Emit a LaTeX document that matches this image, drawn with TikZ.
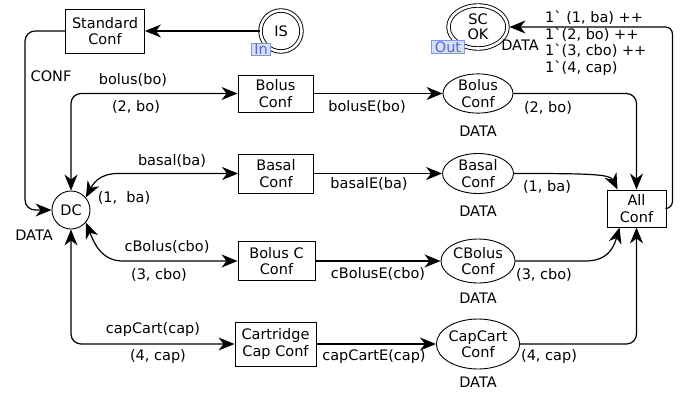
\documentclass[tikz,border=0pt]{standalone}
\usepackage{fontspec}
\newfontfamily\dv{DejaVu Sans}
\usetikzlibrary{arrows.meta,shapes.geometric,calc}
\definecolor{tagfill}{HTML}{D6DEF8}
\definecolor{tagline}{HTML}{7F95E8}
\definecolor{tagtext}{HTML}{5468D8}
\begin{document}
\begin{tikzpicture}[x=1pt,y=1pt,
  every node/.style={font=\dv\fontsize{14.5}{16.5}\selectfont, inner sep=0pt},
  trans/.style={draw, line width=0.9pt, align=center, rectangle},
  place/.style={draw, line width=0.9pt, ellipse, align=center},
  dplace/.style={draw, line width=0.9pt, double, double distance=2.6pt, align=center},
  tag/.style={draw=tagline, fill=tagfill, text=tagtext, line width=0.9pt, inner xsep=3pt, inner ysep=1pt},
  arc/.style={line width=1.2pt, -{Stealth[length=16pt,width=13pt,inset=5pt]}},
  arcb/.style={line width=1.2pt, {Stealth[length=16pt,width=13pt,inset=5pt]}-{Stealth[length=16pt,width=13pt,inset=5pt]}},
]
\useasboundingbox (0,0) rectangle (688,-394);

% transitions
\node[trans, minimum width=79, minimum height=44] (std) at (105,-31) {Standard\\Conf};
\node[trans, minimum width=75, minimum height=37] (bolusT) at (275.5,-93.5) {Bolus\\Conf};
\node[trans, minimum width=75, minimum height=39] (basalT) at (276,-173.5) {Basal\\Conf};
\node[trans, minimum width=77, minimum height=39] (bcT) at (276.5,-261) {Bolus C\\Conf};
\node[trans, minimum width=81, minimum height=44] (capT) at (275.5,-344) {Cartridge\\Cap Conf};
\node[trans, minimum width=59, minimum height=37] (all) at (636.5,-208.5) {All\\Conf};

% places
\node[dplace, circle, minimum size=41] (is) at (281,-31) {IS};
\node[dplace, ellipse, minimum width=59, minimum height=43, font=\dv\fontsize{14.5}{15}\selectfont] (sc) at (478,-27) {SC\\OK};
\node[place, circle, minimum size=38] (dc) at (71,-210) {DC};
\node[place, minimum width=70, minimum height=38] (bolusP) at (478,-93.5) {Bolus\\Conf};
\node[place, minimum width=71, minimum height=40] (basalP) at (478,-173.5) {Basal\\Conf};
\node[place, minimum width=74, minimum height=44] (cbP) at (478,-261) {CBolus\\Conf};
\node[place, minimum width=79, minimum height=50] (capP) at (478,-344) {CapCart\\Conf};

% tags
\node[tag] (tin) at (261,-49.5) {In};
\node[tag] (tout) at (448,-47) {Out};

% arcs
\draw[arc] (is) -- (std);
\draw[arc, rounded corners=10pt] (std.west) -- ++(-40,0) |- (dc.west);
\draw[arcb, rounded corners=10pt] (dc.north) |- (bolusT.west);
\draw[arcb] (dc.40) .. controls (93,-184) and (99,-173.5) .. ($(basalT.west)+(-120,0)$) -- (basalT.west);
\draw[arcb] (dc.-40) .. controls (93,-240) and (100,-261) .. ($(bcT.west)+(-115,0)$) -- (bcT.west);
\draw[arcb, rounded corners=10pt] (dc.south) |- (capT.west);

\draw[arc] (bolusT) -- (bolusP);
\draw[arc] (basalT) -- (basalP);
\draw[arc] (bcT) -- (cbP);
\draw[arc] (capT) -- (capP);

\draw[arc, rounded corners=10pt] (bolusP.east) -| (all.north);
\draw[arc] (basalP.east) .. controls (590,-173.5) and (610,-174) .. ($(all.north west)+(11,0)$);
\draw[arc] (cbP.east) -- (585,-261) .. controls (606,-261) and (613,-250) .. ($(all.south west)+(13,0)$);
\draw[arc, rounded corners=10pt] (capP.east) -| (all.south);
\draw[arc, rounded corners=7pt] (all.east) -- ++(6,0) |- ($(sc.east)+(1.5,0)$);

% labels
\node (l1) at (51,-76) {CONF};
\node (l2) at (34,-235) {DATA};
\node (l3) at (133,-80) {bolus(bo)};
\node (l4) at (136,-107) {(2, bo)};
\node (l5) at (172,-161) {basal(ba)};
\node (l6) at (124,-198) {(1,\ \ ba)};
\node (l7) at (167,-247) {cBolus(cbo)};
\node (l8) at (159,-275) {(3, cbo)};
\node (l9) at (153,-330) {capCart(cap)};
\node (l10) at (158,-357) {(4, cap)};
\node (l11) at (367,-107) {bolusE(bo)};
\node (l12) at (369,-184) {basalE(ba)};
\node (l13) at (378,-274) {cBolusE(cbo)};
\node (l14) at (374,-357) {capCartE(cap)};
\node (d1) at (478,-131) {DATA};
\node (d2) at (478,-211) {DATA};
\node (d3) at (478,-298) {DATA};
\node (d4) at (478,-382) {DATA};
\node (r1) at (548,-108) {(2, bo)};
\node (r2) at (547,-187) {(1, ba)};
\node (r3) at (544,-275) {(3, cbo)};
\node (r4) at (549,-357) {(4, cap)};
\node (d5) at (520,-45) {DATA};
\node[align=left, anchor=west] (bag) at (545,-43) {1` (1, ba) ++\\1`(2, bo) ++\\1`(3, cbo) ++\\1`(4, cap)};
\end{tikzpicture}
\end{document}
